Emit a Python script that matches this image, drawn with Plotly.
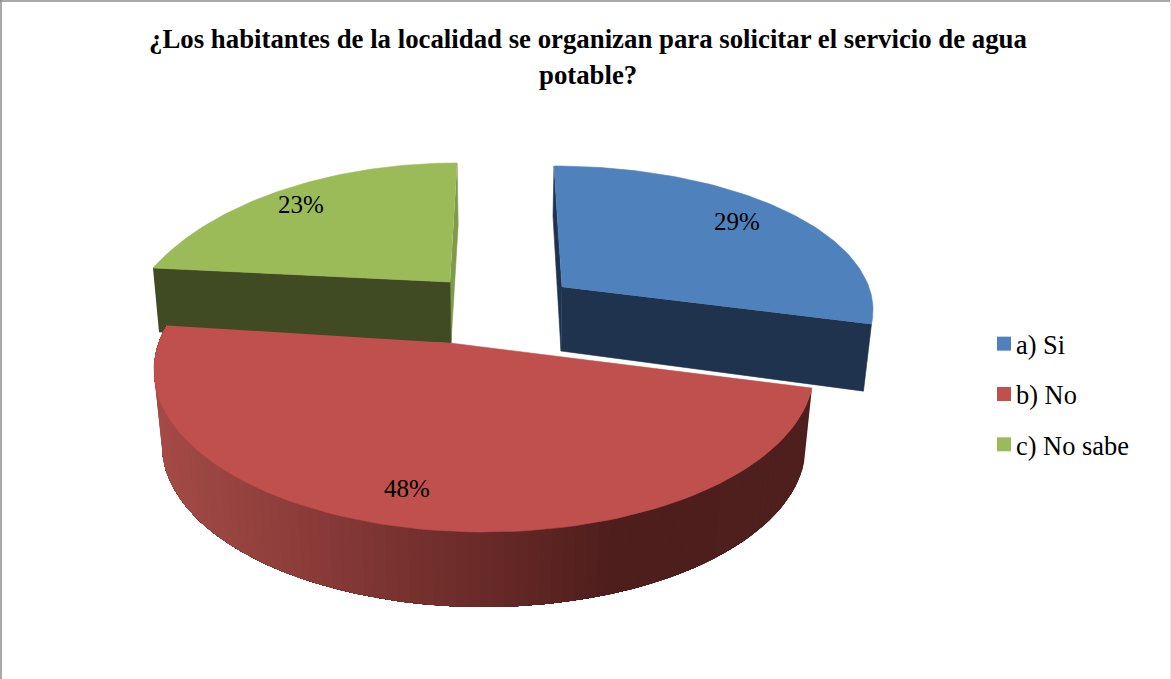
import numpy as np
import plotly.graph_objects as go

TITLE_LINE_1 = "¿Los habitantes de la localidad se organizan para solicitar el servicio de agua"
TITLE_LINE_2 = "potable?"
categories = ["a) Si", "b) No", "c) No sabe"]
values = [29, 48, 23]
top_colors = ["#4F81BD", "#C0504D", "#9BBB59"]
wall_colors = ["#1F334E", "#4F1F1D", "#404A23"]
sliver_colors = ["#1F334E", "#4F1F1D", "#7F9A48"]

# projected geometry of each exploded slice (screen pixels): cx, cy, rx, ry, t0, stretch
GEOM = {
    0: dict(cx=554, cy=310, rx=319, ry=144, t0=0.0, k=0.916, apex=(562, 287)),
    1: dict(cx=484, cy=370, rx=330, ry=162, t0=96.4, k=1.097, apex=(450, 343)),
    2: dict(cx=457, cy=353, rx=340, ry=190, t0=-63.4, k=0.766, apex=(450, 282)),
}
RED_BOTTOM = dict(cx=484, cy=445, rx=322, ry=162)
LABEL_POS = [(737, 221), (407, 488), (301, 204)]

total = sum(values)
edges = np.concatenate([[0], np.cumsum(values)]) / total * 360.0


def rim(g, theta):
    t = np.radians(g["t0"] + (np.asarray(theta, float) - theta_start) * g["k"])
    return g["cx"] + g["rx"] * np.sin(t), g["cy"] - g["ry"] * np.cos(t)


fig = go.Figure()


def poly(xs, ys, color, width=0.6):
    fig.add_trace(go.Scatter(x=list(xs), y=list(ys), mode="lines", fill="toself",
                             fillcolor=color, line=dict(color=color, width=width),
                             hoverinfo="skip", showlegend=False))


# slice 0 (blue)
g = GEOM[0]; theta_start = edges[0]
th = np.linspace(edges[0], edges[1], 80)
x, y = rim(g, th)
ax, ay = g["apex"]
poly([x[0], x[0] - 1, ax - 1, ax], [y[0], y[0] + 50, ay + 64, ay], sliver_colors[0])
poly([ax, x[-1], x[-1] - 8, ax - 1], [ay, y[-1], y[-1] + 67, ay + 64], wall_colors[0])
poly(np.r_[ax, x], np.r_[ay, y], top_colors[0])

# slice 2 (green)
g = GEOM[2]; theta_start = edges[2]
th = np.linspace(edges[2], edges[3], 80)
x, y = rim(g, th)
ax, ay = g["apex"]
poly([x[-1], x[-1] + 1, ax + 1, ax], [y[-1], y[-1] + 62, ay + 61, ay], sliver_colors[2])
poly([x[0], ax, ax + 1, x[0] + 6], [y[0], ay, ay + 61, y[0] + 64], wall_colors[2])
poly(np.r_[ax, x], np.r_[ay, y], top_colors[2])

# slice 1 (red) with shaded outer wall: nested bands painted over each other, so no seams
g = GEOM[1]; theta_start = edges[1]
th = np.linspace(edges[1], edges[2], 91)
x, y = rim(g, th)
t = np.radians(g["t0"] + (th - edges[1]) * g["k"])
bx = RED_BOTTOM["cx"] + RED_BOTTOM["rx"] * np.sin(t)
by = RED_BOTTOM["cy"] - RED_BOTTOM["ry"] * np.cos(t)
stop_x = [155, 300, 480, 620, 813]
stop_rgb = np.array([[165, 75, 71], [140, 61, 58], [106, 43, 41], [77, 30, 28], [79, 32, 30]])
for i in range(len(th) - 1):
    mx = (x[i] + x[i + 1]) / 2
    c = [int(np.interp(mx, stop_x, stop_rgb[:, j])) for j in range(3)]
    col = f"rgb({c[0]},{c[1]},{c[2]})"
    poly(np.r_[x[i:], bx[i:][::-1]], np.r_[y[i:], by[i:][::-1]], col, 0)
ax, ay = g["apex"]
poly(np.r_[ax, x], np.r_[ay, y], top_colors[1])

# legend entries
for i, name in enumerate(categories):
    fig.add_trace(go.Scatter(x=[None], y=[None], mode="markers", name=name, legendgroup=name,
                             marker=dict(symbol="square", size=14, color=top_colors[i])))

SERIF = "Liberation Serif"
for i, v in enumerate(values):
    fig.add_annotation(x=LABEL_POS[i][0], y=LABEL_POS[i][1], text=f"{v}%", showarrow=False,
                       font=dict(family=SERIF, size=25, color="#000"))

fig.add_annotation(x=588, y=75, text=f"<b>{TITLE_LINE_2}</b>", showarrow=False,
                   font=dict(family=SERIF, size=26.8, color="#000"))

fig.update_layout(
    width=1171, height=679, margin=dict(l=0, r=0, t=0, b=0),
    paper_bgcolor="white", plot_bgcolor="white",
    title=dict(text=f"<b>{TITLE_LINE_1}</b>", x=588 / 1171, xanchor="center", y=1 - 39 / 679,
               yanchor="middle", font=dict(family=SERIF, size=26.8, color="#000")),
    xaxis=dict(range=[0, 1171], visible=False, fixedrange=True),
    yaxis=dict(range=[679, 0], visible=False, fixedrange=True),
    legend=dict(x=976 / 1171, y=1 - 320 / 679, xanchor="left", yanchor="top",
                font=dict(family=SERIF, size=26.4, color="#000"), tracegroupgap=13,
                bgcolor="rgba(0,0,0,0)"),
    shapes=[
        dict(type="line", xref="x", yref="y", x0=1, x1=1, y0=0, y1=679, line=dict(color="#8C8C8C", width=1.5)),
        dict(type="line", xref="x", yref="y", x0=0, x1=1171, y0=1, y1=1, line=dict(color="#8C8C8C", width=1.5)),
        dict(type="line", xref="x", yref="y", x0=1170.5, x1=1170.5, y0=0, y1=679, line=dict(color="#E8E8E8", width=1)),
    ],
)

fig.write_html("out.html", config={"displayModeBar": False}, post_script="""
document.body.style.margin='0';
document.querySelectorAll('.legend .legendpoints').forEach(function(n){n.setAttribute('transform','translate(8,0)');});
""")
